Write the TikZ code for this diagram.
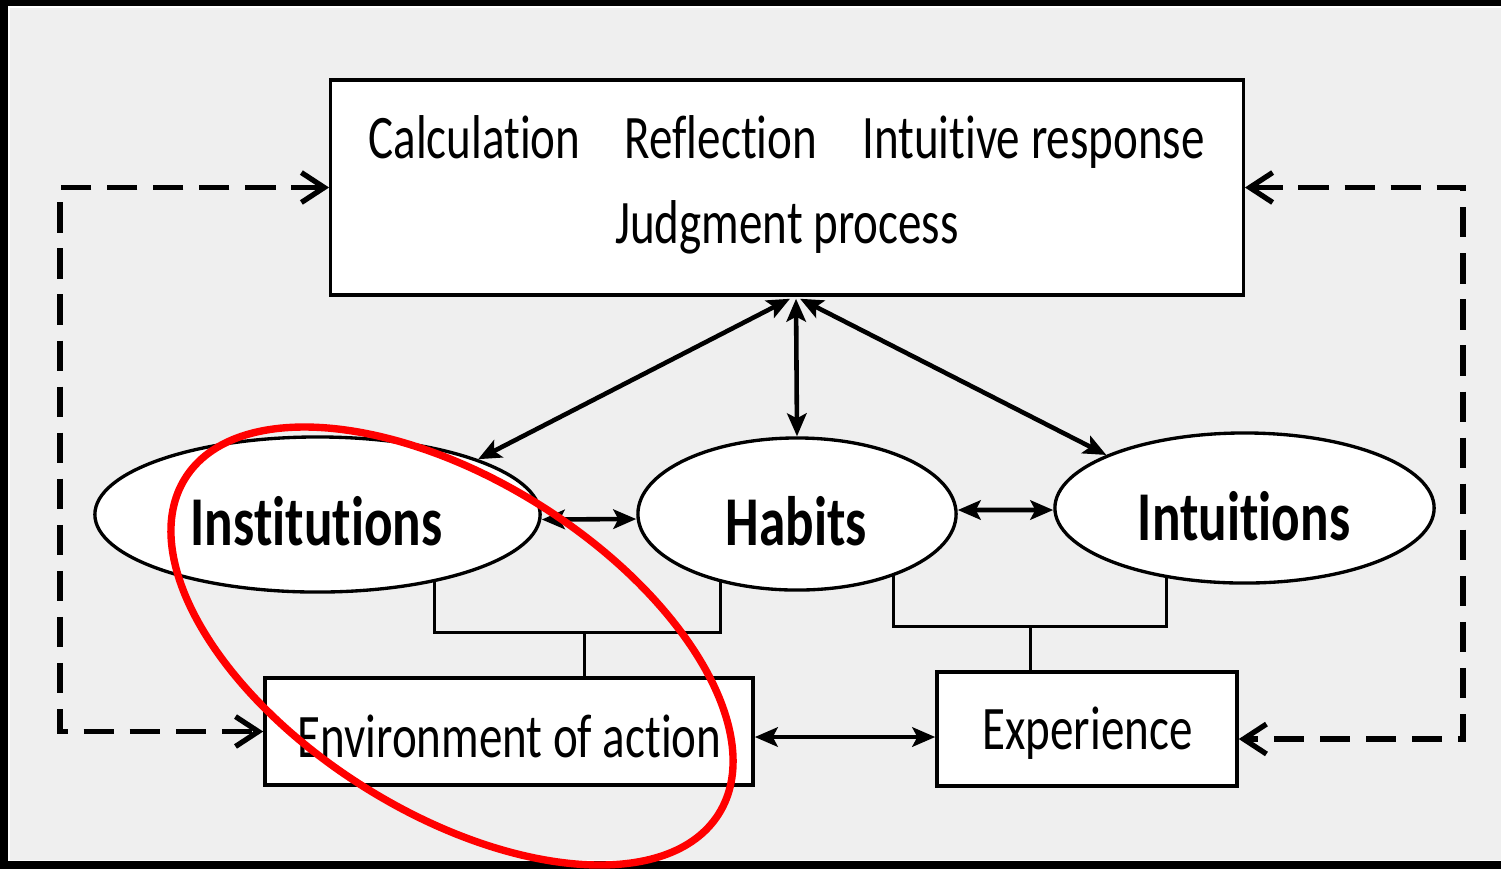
\documentclass[tikz,border=0pt]{standalone}
\usepackage{fontspec}
\setmainfont{Carlito}
\newfontfamily\lblfont[FakeStretch=0.76,Ligatures={NoCommon,NoRare,NoContextual}]{Carlito}
\usetikzlibrary{arrows.meta,shapes.geometric,calc}
\definecolor{bgc}{RGB}{239,239,239}
\tikzset{
  boxn/.style={draw=black,fill=white,line width=0.95pt,inner sep=0pt,rectangle},
  elln/.style={draw=black,fill=white,line width=0.95pt,inner sep=0pt,ellipse},
  txt/.style={inner sep=0pt,anchor=base,font=\lblfont\fontsize{17.6pt}{20pt}\selectfont},
  btxt/.style={inner sep=0pt,anchor=base,font=\lblfont\bfseries\fontsize{19.9pt}{22pt}\selectfont},
  solidarr/.style={line width=1.3pt,{Stealth[length=6.5pt,width=5.5pt,inset=1.4pt]}-{Stealth[length=6.5pt,width=5.5pt,inset=1.4pt]}},
  dsh/.style={line width=1.5pt,dash pattern=on 8.6pt off 4.5pt,{Straight Barb[length=6.5pt,width=8.5pt]}-{Straight Barb[length=6.5pt,width=8.5pt]}},
  brk/.style={line width=0.85pt},
}
\begin{document}
\begin{tikzpicture}[x=0.01cm,y=-0.01cm]
\useasboundingbox (0,0) rectangle (1501,869);
% frame
\fill[black] (0,0) rectangle (1501,869);
\fill[white] (8,6) rectangle (1501,861);
\fill[bgc] (9.5,7.5) rectangle (1501,859.5);
% boxes
\node[boxn,minimum width=9.12cm,minimum height=2.15cm] (judg) at (787,187.5) {};
\node[boxn,minimum width=4.88cm,minimum height=1.07cm] (env) at (509,731.5) {};
\node[boxn,minimum width=3.00cm,minimum height=1.14cm] (exp) at (1087,729) {};
% ellipses
\node[elln,minimum width=4.45cm,minimum height=1.55cm] (inst) at (317.5,514.5) {};
\node[elln,minimum width=3.18cm,minimum height=1.52cm] (hab) at (797,514) {};
\node[elln,minimum width=3.79cm,minimum height=1.50cm] (intu) at (1244.5,508) {};
% texts
\node[txt] (tcalc) at (474.5,158) {Calculation};
\node[txt] (trefl) at (721,158) {Reflection};
\node[txt] (tintr) at (1033.5,158) {Intuitive response};
\node[txt] (tjudg) at (787,243) {Judgment process};
\node[txt] (tenv) at (509.5,757) {Environment of action};
\node[txt] (texp) at (1087.5,749) {Experience};
\node[btxt] (tinst) at (316.5,545) {Institutions};
\node[btxt] (thab) at (796.5,545) {Habits};
\node[btxt] (tintu) at (1244,540) {Intuitions};
% solid arrows
\draw[solidarr] ($(judg.south)+(3,2)$) -- (inst.19);
\draw[solidarr] ($(judg.south)+(9,2)$) -- (hab.north);
\draw[solidarr] ($(judg.south)+(13,2)$) -- (intu.159);
\draw[solidarr] ([yshift=-0.05cm]inst.east) -- ([yshift=-0.05cm]hab.west);
\draw[solidarr] ([yshift=0.04cm]hab.east) -- ([yshift=-0.02cm]intu.west);
\draw[solidarr] (env.east |- 0,737) -- (exp.west |- 0,737);
% brackets
\coordinate (lj) at (584,631);
\coordinate (rj) at (1030,625);
\draw[brk] (inst.-30.6) -- ++(0,50) -| (hab.-138.6);
\draw[brk] (lj) -- (lj |- env.north);
\draw[brk] (hab.-33) -- ++(0,50) -| (intu.-138.1);
\draw[brk] (rj) -- (rj |- exp.north);
% dashed feedback
\coordinate (dl) at (60,0);
\coordinate (dr) at (1463,0);
\draw[dsh] (judg.west) -- (judg.west -| dl) -- (env.west -| dl) -- (env.west);
\draw[dsh] (judg.east) -- (judg.east -| dr) -- (dr |- 0,739) -- (exp.east |- 0,739);
% red highlight
\draw[red,line width=2.1pt,rotate around={-32.2:(452,646)}] (452,646) ellipse [x radius=3.15cm, y radius=1.66cm];
\end{tikzpicture}
\end{document}
